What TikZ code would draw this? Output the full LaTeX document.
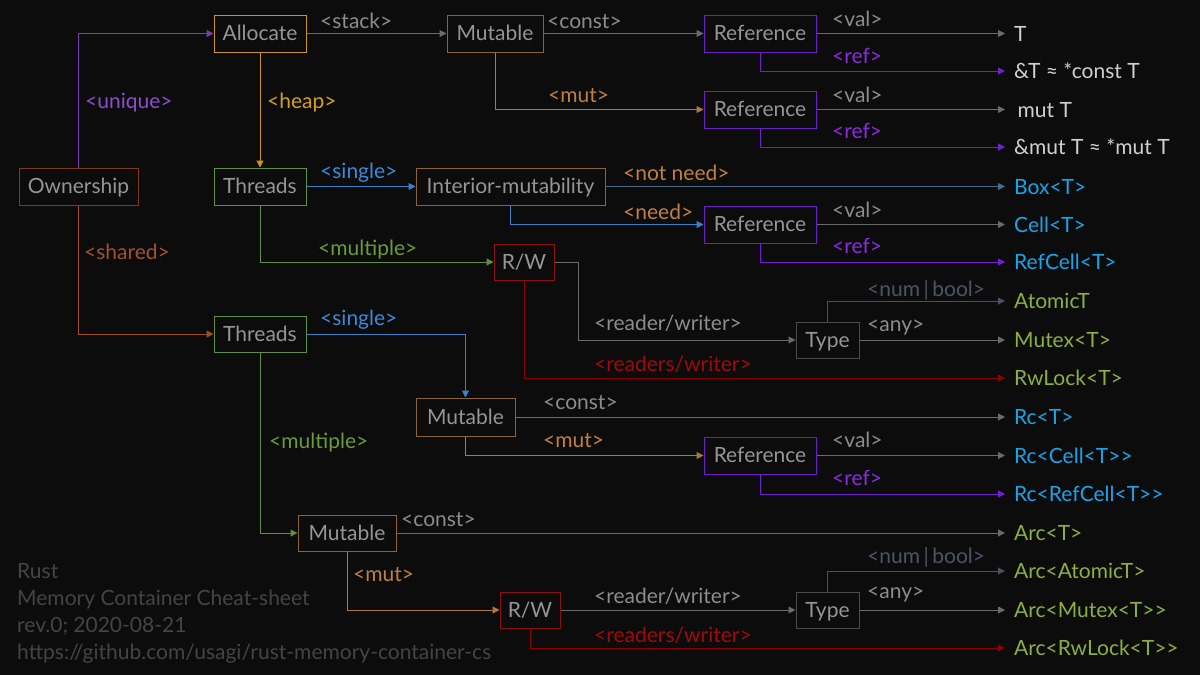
\documentclass[tikz,border=0pt]{standalone}
\usepackage{fontspec}
\setmainfont{Lato}
\usetikzlibrary{arrows.meta}
\definecolor{bg}{HTML}{0C0C0C}
\definecolor{boxtxt}{HTML}{959595}
\definecolor{bown}{HTML}{7E3C14}
\definecolor{balloc}{HTML}{C8961E}
\definecolor{bthr}{HTML}{5E9040}
\definecolor{bmut}{HTML}{8C6434}
\definecolor{bref}{HTML}{6A1FC0}
\definecolor{brw}{HTML}{8B0F0F}
\definecolor{btype}{HTML}{4A4A4A}
\definecolor{cuniq}{HTML}{7B3DB5}
\definecolor{cheap}{HTML}{C8961E}
\definecolor{cshared}{HTML}{A0501E}
\definecolor{cgray}{HTML}{6A6A6A}
\definecolor{cmut}{HTML}{B07838}
\definecolor{cref}{HTML}{7020D0}
\definecolor{csingle}{HTML}{3C82C8}
\definecolor{cnotneed}{HTML}{4A6A88}
\definecolor{cmulti}{HTML}{5E9040}
\definecolor{crw}{HTML}{8B0000}
\definecolor{cnum}{HTML}{4A5060}
\definecolor{tuniq}{HTML}{8A4FCC}
\definecolor{theap}{HTML}{D4A020}
\definecolor{tshared}{HTML}{A0522D}
\definecolor{tgray}{HTML}{8C8C8C}
\definecolor{tmut}{HTML}{C08040}
\definecolor{tref}{HTML}{8A2BE2}
\definecolor{tsingle}{HTML}{3A8AD8}
\definecolor{tmulti}{HTML}{6A9A3A}
\definecolor{trw}{HTML}{A00A0A}
\definecolor{tnum}{HTML}{4A5568}
\definecolor{twhite}{HTML}{D0D0D0}
\definecolor{tblue}{HTML}{1AA3E8}
\definecolor{tgreen}{HTML}{8CB040}
\definecolor{tfoot}{HTML}{444444}
\begin{document}
\begin{tikzpicture}[x=1pt,y=-1pt,font=\fontsize{21}{25}\selectfont,
  box/.style={draw,line width=1pt,fill=bg,text=boxtxt,inner sep=0pt,
    minimum height=37pt,text height=15pt,text depth=1pt},
  leaf/.style={anchor=west,inner xsep=9pt,inner ysep=0pt,text height=15pt,text depth=0pt},
  lbl/.style={anchor=base west,inner sep=0pt},
  conn/.style={line width=1pt,-{Triangle[length=7pt,width=7pt]}}]
\fill[bg] (0,0) rectangle (1200,675);

% boxes
\node[box,draw=bown,minimum width=119pt] (own) at (78.5,186.5) {Ownership};
\node[box,draw=balloc,minimum width=92pt] (alloc) at (260,33.5) {Allocate};
\node[box,draw=bthr,minimum width=92pt] (thrA) at (260,186.5) {Threads};
\node[box,draw=bmut,minimum width=96pt] (mutA) at (495,33.5) {Mutable};
\node[box,draw=bref,minimum width=112pt] (refA) at (760,33.5) {Reference};
\node[box,draw=bref,minimum width=112pt] (refB) at (760,109.5) {Reference};
\node[box,draw=bmut,minimum width=189pt] (inter) at (510.5,186.5) {Interior-mutability};
\node[box,draw=bref,minimum width=112pt] (refC) at (760,224.5) {Reference};
\node[box,draw=brw,minimum width=60pt,minimum height=36pt] (rwA) at (524,262) {R/W};
\node[box,draw=bthr,minimum width=92pt,minimum height=36pt] (thrB) at (260,334) {Threads};
\node[box,draw=btype,minimum width=63pt,minimum height=36pt] (typeA) at (827.5,340) {Type};
\node[box,draw=bmut,minimum width=99pt,minimum height=38pt] (mutB) at (465.5,417) {Mutable};
\node[box,draw=bref,minimum width=112pt] (refD) at (760,455.5) {Reference};
\node[box,draw=bmut,minimum width=98pt,minimum height=36pt] (mutC) at (347,533) {Mutable};
\node[box,draw=brw,minimum width=60pt,minimum height=36pt] (rwB) at (530,610) {R/W};
\node[box,draw=btype,minimum width=63pt,minimum height=36pt] (typeB) at (827.5,610) {Type};

% results
\node[leaf,text=twhite] (t) at (1005,33.5) {T};
\node[leaf,text=twhite] (reft) at (1005,71) {\&T ≈ *const T};
\node[leaf,text=twhite] (mutt) at (1005,109.5) {\,mut T};
\node[leaf,text=twhite] (refmutt) at (1005,147) {\&mut T ≈ *mut T};
\node[leaf,text=tblue] (boxt) at (1005,186.5) {Box<T>};
\node[leaf,text=tblue] (cell) at (1005,224.5) {Cell<T>};
\node[leaf,text=tblue] (refcell) at (1005,262) {RefCell<T>};
\node[leaf,text=tgreen] (atomic) at (1005,301) {AtomicT};
\node[leaf,text=tgreen] (mutex) at (1005,340) {Mutex<T>};
\node[leaf,text=tgreen] (rwlock) at (1005,378) {RwLock<T>};
\node[leaf,text=tblue] (rc) at (1005,417) {Rc<T>};
\node[leaf,text=tblue] (rccell) at (1005,455.5) {Rc<Cell<T>{}>};
\node[leaf,text=tblue] (rcrefcell) at (1005,494) {Rc<RefCell<T>{}>};
\node[leaf,text=tgreen] (arc) at (1005,533) {Arc<T>};
\node[leaf,text=tgreen] (arcatomic) at (1005,571) {Arc<AtomicT>};
\node[leaf,text=tgreen] (arcmutex) at (1005,610) {Arc<Mutex<T>{}>};
\node[leaf,text=tgreen] (arcrw) at (1005,648) {Arc<RwLock<T>{}>};

% connectors
\draw[conn,cuniq] (own.north) |- (alloc);
\draw[conn,cshared] (own.south) |- (thrB);
\draw[conn,cgray] (alloc) -- (mutA);
\draw[conn,cheap] (alloc) -- (thrA);
\draw[conn,cgray] (mutA) -- (refA);
\draw[conn,cmut] (mutA.south) |- (refB);
\draw[conn,cgray] (refA) -- (t);
\draw[conn,cref] (refA.south) |- (reft);
\draw[conn,cgray] (refB) -- (mutt);
\draw[conn,cref] (refB.south) |- (refmutt);
\draw[conn,csingle] (thrA) -- (inter);
\draw[conn,cnotneed] (inter) -- (boxt);
\draw[conn,csingle] (inter.south) |- (refC);
\draw[conn,cgray] (refC) -- (cell);
\draw[conn,cref] (refC.south) |- (refcell);
\draw[conn,cmulti] (thrA.south) |- (rwA);
\draw[conn,cgray] (rwA.east) -- ++(24,0) |- (typeA);
\draw[conn,crw] (rwA.south) |- (rwlock);
\draw[conn,cnum] (typeA.north) |- (atomic);
\draw[conn,cgray] (typeA) -- (mutex);
\draw[conn,csingle] (thrB) -| (mutB);
\draw[conn,cgray] (mutB) -- (rc);
\draw[conn,cmut] (mutB.south) |- (refD);
\draw[conn,cgray] (refD) -- (rccell);
\draw[conn,cref] (refD.south) |- (rcrefcell);
\draw[conn,cmulti] (thrB.south) |- (mutC);
\draw[conn,cgray] (mutC) -- (arc);
\draw[conn,cmut] (mutC.south) |- (rwB);
\draw[conn,cgray] (rwB) -- (typeB);
\draw[conn,crw] (rwB.south) |- (arcrw);
\draw[conn,cnum] (typeB.north) |- (arcatomic);
\draw[conn,cgray] (typeB) -- (arcmutex);

% labels
\node[lbl,text=tuniq] (lunique) at (85,108) {<unique>};
\node[lbl,text=tshared] (lshared) at (84,259) {<shared>};
\node[lbl,text=tgray] (lstack) at (320,28) {<stack>};
\node[lbl,text=theap] (lheap) at (267,108) {<heap>};
\node[lbl,text=tgray] (lconstA) at (547,28) {<const>};
\node[lbl,text=tmut] (lmutA) at (548,102) {<mut>};
\node[lbl,text=tgray] (lvalA) at (832,26) {<val>};
\node[lbl,text=tref] (lrefA) at (832,63) {<ref>};
\node[lbl,text=tgray] (lvalB) at (832,102) {<val>};
\node[lbl,text=tref] (lrefB) at (832,138) {<ref>};
\node[lbl,text=tsingle] (lsingleA) at (320,178) {<single>};
\node[lbl,text=tmut] (lnotneed) at (623,180) {<not need>};
\node[lbl,text=tmut] (lneed) at (623,219) {<need>};
\node[lbl,text=tgray] (lvalC) at (832,217) {<val>};
\node[lbl,text=tref] (lrefC) at (832,253) {<ref>};
\node[lbl,text=tmulti] (lmultiA) at (318,255) {<multiple>};
\node[lbl,text=tgray] (lrwA) at (594,330) {<reader/writer>};
\node[lbl,text=trw] (lrsA) at (594,371) {<readers/writer>};
\node[lbl,text=tnum] (lnumA) at (867,296) {<num\,|\,bool>};
\node[lbl,text=tgray] (lanyA) at (867,331) {<any>};
\node[lbl,text=tsingle] (lsingleB) at (320,325) {<single>};
\node[lbl,text=tgray] (lconstB) at (543,409) {<const>};
\node[lbl,text=tmut] (lmutB) at (543,447) {<mut>};
\node[lbl,text=tgray] (lvalD) at (832,447) {<val>};
\node[lbl,text=tref] (lrefD) at (832,485) {<ref>};
\node[lbl,text=tmulti] (lmultiB) at (269,448) {<multiple>};
\node[lbl,text=tgray] (lconstC) at (401,526) {<const>};
\node[lbl,text=tmut] (lmutC) at (353,581) {<mut>};
\node[lbl,text=tgray] (lrwB) at (594,603) {<reader/writer>};
\node[lbl,text=trw] (lrsB) at (594,642) {<readers/writer>};
\node[lbl,text=tnum] (lnumB) at (867,563) {<num\,|\,bool>};
\node[lbl,text=tgray] (lanyB) at (867,598) {<any>};

% footer
\node[anchor=north west,inner sep=0pt,align=left,text=tfoot,
  font=\fontsize{21}{27}\selectfont] (foot) at (17,563)
  {Rust\\Memory Container Cheat-sheet\\rev.0; 2020-08-21\\https://github.com/usagi/rust-memory-container-cs};
\end{tikzpicture}
\end{document}
